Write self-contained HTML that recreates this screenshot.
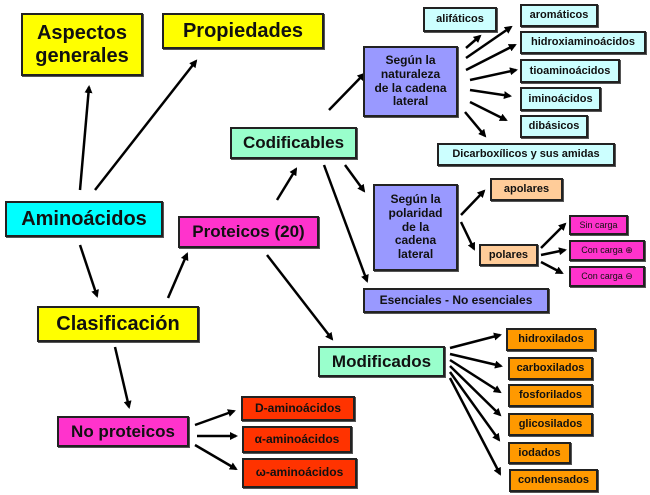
<!DOCTYPE html>
<html><head><meta charset="utf-8"><style>
body{margin:0;width:650px;height:495px;background:#fff;position:relative;overflow:hidden;font-family:"Liberation Sans",sans-serif;font-weight:bold}
.b{position:absolute;box-sizing:border-box;border:2px solid #222;display:flex;align-items:center;justify-content:center;text-align:center;color:#111;line-height:1.15;box-shadow:1px 1px 0 #555}
.y{background:#ffff00}.c{background:#00ffff}.m{background:#99ffcc}.p{background:#ff33cc}.v{background:#9999ff}.lc{background:#ccffff}.t{background:#ffcc99}.o{background:#ff9900}.r{background:#ff3300}
svg{position:absolute;left:0;top:0}
</style></head><body>
<svg width="650" height="495"><defs><marker id="a" markerWidth="8" markerHeight="8" refX="6" refY="4" orient="auto" markerUnits="userSpaceOnUse"><path d="M0,0L8,4L0,8z" fill="#000"/></marker></defs>
<g stroke="#000" stroke-width="2.5" marker-end="url(#a)">
<line x1="80" y1="190" x2="89" y2="87"/>
<line x1="95" y1="190" x2="196" y2="61"/>
<line x1="80" y1="245" x2="97" y2="296"/>
<line x1="168" y1="298" x2="187" y2="254"/>
<line x1="115" y1="347" x2="129" y2="407"/>
<line x1="277" y1="200" x2="296" y2="169"/>
<line x1="267" y1="255" x2="332" y2="339"/>
<line x1="329" y1="110" x2="364" y2="74"/>
<line x1="345" y1="165" x2="364" y2="191"/>
<line x1="324" y1="165" x2="367" y2="281"/>
<line x1="466" y1="48" x2="480" y2="36"/>
<line x1="466" y1="58" x2="511" y2="27"/>
<line x1="466" y1="70" x2="515" y2="45"/>
<line x1="470" y1="80" x2="516" y2="70"/>
<line x1="470" y1="90" x2="510" y2="96"/>
<line x1="470" y1="102" x2="506" y2="120"/>
<line x1="465" y1="112" x2="485" y2="136"/>
<line x1="461" y1="215" x2="484" y2="191"/>
<line x1="461" y1="222" x2="474" y2="249"/>
<line x1="541" y1="248" x2="565" y2="224"/>
<line x1="541" y1="255" x2="565" y2="250"/>
<line x1="541" y1="262" x2="562" y2="273"/>
<line x1="450" y1="348" x2="500" y2="335"/>
<line x1="450" y1="354" x2="501" y2="366"/>
<line x1="450" y1="360" x2="500" y2="392"/>
<line x1="450" y1="366" x2="500" y2="415"/>
<line x1="450" y1="372" x2="499" y2="440"/>
<line x1="450" y1="378" x2="500" y2="474"/>
<line x1="195" y1="425" x2="234" y2="411"/>
<line x1="197" y1="436" x2="236" y2="436"/>
<line x1="195" y1="445" x2="236" y2="469"/>
</g></svg>
<div class="b y" style="left:21px;top:13px;width:122px;height:63px;font-size:20px">Aspectos<br>generales</div>
<div class="b y" style="left:162px;top:13px;width:162px;height:36px;font-size:20px">Propiedades</div>
<div class="b c" style="left:5px;top:201px;width:158px;height:36px;font-size:20px">Aminoácidos</div>
<div class="b m" style="left:230px;top:127px;width:127px;height:32px;font-size:17px">Codificables</div>
<div class="b p" style="left:178px;top:216px;width:141px;height:32px;font-size:17px">Proteicos (20)</div>
<div class="b y" style="left:37px;top:306px;width:162px;height:36px;font-size:20px">Clasificación</div>
<div class="b p" style="left:57px;top:416px;width:132px;height:31px;font-size:17px">No proteicos</div>
<div class="b r" style="left:241px;top:396px;width:114px;height:25px;font-size:12px">D-aminoácidos</div>
<div class="b r" style="left:242px;top:426px;width:110px;height:27px;font-size:12px">α-aminoácidos</div>
<div class="b r" style="left:242px;top:458px;width:115px;height:30px;font-size:12px">ω-aminoácidos</div>
<div class="b m" style="left:318px;top:346px;width:127px;height:31px;font-size:17px">Modificados</div>
<div class="b o" style="left:506px;top:328px;width:90px;height:23px;font-size:11px">hidroxilados</div>
<div class="b o" style="left:508px;top:357px;width:85px;height:23px;font-size:11px">carboxilados</div>
<div class="b o" style="left:508px;top:384px;width:85px;height:23px;font-size:11px">fosforilados</div>
<div class="b o" style="left:508px;top:413px;width:85px;height:23px;font-size:11px">glicosilados</div>
<div class="b o" style="left:508px;top:442px;width:63px;height:22px;font-size:11px">iodados</div>
<div class="b o" style="left:509px;top:469px;width:89px;height:23px;font-size:11px">condensados</div>
<div class="b lc" style="left:423px;top:7px;width:74px;height:25px;font-size:11px">alifáticos</div>
<div class="b lc" style="left:520px;top:4px;width:78px;height:23px;font-size:11px">aromáticos</div>
<div class="b lc" style="left:520px;top:31px;width:126px;height:23px;font-size:11px">hidroxiaminoácidos</div>
<div class="b lc" style="left:520px;top:59px;width:100px;height:24px;font-size:11px">tioaminoácidos</div>
<div class="b lc" style="left:520px;top:87px;width:81px;height:24px;font-size:11px">iminoácidos</div>
<div class="b lc" style="left:520px;top:115px;width:68px;height:23px;font-size:11px">dibásicos</div>
<div class="b lc" style="left:437px;top:143px;width:178px;height:23px;font-size:11px">Dicarboxílicos y sus amidas</div>
<div class="b v" style="left:363px;top:46px;width:95px;height:71px;font-size:12px">Según la<br>naturaleza<br>de la cadena<br>lateral</div>
<div class="b v" style="left:373px;top:184px;width:85px;height:87px;font-size:12px">Según la<br>polaridad<br>de la<br>cadena<br>lateral</div>
<div class="b t" style="left:490px;top:178px;width:73px;height:23px;font-size:11px">apolares</div>
<div class="b t" style="left:479px;top:244px;width:59px;height:22px;font-size:11px">polares</div>
<div class="b p" style="left:569px;top:215px;width:59px;height:20px;font-size:9px;font-weight:normal">Sin carga</div>
<div class="b p" style="left:569px;top:240px;width:76px;height:21px;font-size:9px;font-weight:normal">Con carga ⊕</div>
<div class="b p" style="left:569px;top:266px;width:76px;height:21px;font-size:9px;font-weight:normal">Con carga ⊖</div>
<div class="b v" style="left:363px;top:288px;width:186px;height:25px;font-size:12px">Esenciales - No esenciales</div>
</body></html>
